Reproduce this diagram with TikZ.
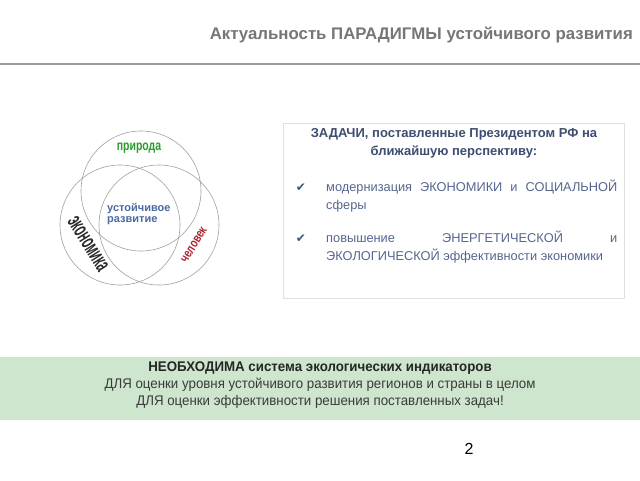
\documentclass[tikz,border=0pt]{standalone}
\usepackage{fontspec}
\setmainfont{Liberation Sans}
\newfontfamily\symfont{DejaVu Sans}
\newfontfamily\narrowfont[FakeStretch=0.75]{Liberation Sans}
\newfontfamily\bandfont[FakeStretch=0.95]{Liberation Sans}
\newfontfamily\tallfont[FakeStretch=0.5]{Liberation Sans}
\definecolor{titlegray}{HTML}{767676}
\definecolor{rulegray}{HTML}{9A9A9A}
\definecolor{circgray}{HTML}{A0A0A0}
\definecolor{boxline}{HTML}{E0E0E0}
\definecolor{boxhead}{HTML}{3E4E70}
\definecolor{boxtext}{HTML}{55668E}
\definecolor{checkblue}{HTML}{3C5588}
\definecolor{bandgreen}{HTML}{CFE6CE}
\definecolor{bandtext}{HTML}{3A3A3A}
\definecolor{natgreen}{HTML}{2E9A2E}
\definecolor{sustblue}{HTML}{4A6AA0}
\definecolor{manred}{HTML}{B0202E}
\definecolor{econdark}{HTML}{2A2A2A}
\begin{document}
\begin{tikzpicture}[x=1pt,y=-1pt,
  venn/.style={circle,draw=circgray,line width=0.6pt,minimum size=120pt,inner sep=0pt},
  chk/.style={font=\symfont\fontsize{12}{14}\selectfont,text=checkblue,inner sep=0pt},
  itemtxt/.style={anchor=north west,text width=291pt,align=justify,inner sep=0pt,
    font=\fontsize{12.8}{17.5}\selectfont,text=boxtext},
  bandline/.style={font=\bandfont\fontsize{14}{16}\selectfont,text=bandtext,inner sep=0pt}]
\useasboundingbox (0,0) rectangle (640,480);
\fill[white] (0,0) rectangle (640,480);
% title
\node[anchor=east,inner sep=0pt,text=titlegray,font=\bfseries\fontsize{16.8}{19}\selectfont] (title) at (633,35) {Актуальность ПАРАДИГМЫ устойчивого развития};
\coordinate (ruleL) at (0,64);
\coordinate (ruleR) at (640,64);
\draw[rulegray,line width=1.8pt] (ruleL) -- (ruleR);
% venn
\node[venn] (cTop) at (141,191) {};
\node[venn] (cLeft) at (120,225) {};
\node[venn] (cRight) at (159,225) {};
\node[text=natgreen,font=\narrowfont\bfseries\fontsize{14}{16}\selectfont,inner sep=0pt] (nat) at (139,148) {природа};
\node[anchor=west,align=left,text=sustblue,font=\bfseries\fontsize{11}{11.5}\selectfont,inner sep=0pt] (sust) at (107,214) {устойчивое\\развитие};
\node[rotate=-58,text=econdark,font=\tallfont\bfseries\fontsize{23}{24}\selectfont,inner sep=0pt] (econ) at (88,244) {экономика};
\node[rotate=58,text=manred,font=\narrowfont\bfseries\fontsize{13}{14}\selectfont,inner sep=0pt] (man) at (194,245) {человек};
% tasks box
\node[draw=boxline,line width=0.8pt,minimum width=341pt,minimum height=175pt,anchor=north west,inner sep=0pt] (box) at (283,123) {};
\node[align=center,text=boxhead,font=\bfseries\fontsize{13}{18}\selectfont,inner sep=0pt] (boxtitle) at (454,143) {ЗАДАЧИ, поставленные Президентом РФ на\\ближайшую перспективу:};
\node[chk] (ck1) at (301,188) {✔};
\node[chk] (ck2) at (301,239) {✔};
\node[itemtxt] (it1) at (326,180) {модернизация ЭКОНОМИКИ и СОЦИАЛЬНОЙ сферы};
\node[itemtxt] (it2) at (326,231) {повышение ЭНЕРГЕТИЧЕСКОЙ и\linebreak ЭКОЛОГИЧЕСКОЙ эффективности экономики};
% band
\fill[bandgreen] (0,357) rectangle (640,420);
\node[bandline,font=\bandfont\bfseries\fontsize{14}{16}\selectfont,text=black!85] (b1) at (320,368) {НЕОБХОДИМА система экологических индикаторов};
\node[bandline] (b2) at (320,385) {ДЛЯ оценки уровня устойчивого развития регионов и страны в целом};
\node[bandline] (b3) at (320,402) {ДЛЯ оценки эффективности решения поставленных задач!};
% page number
\node[font=\fontsize{16}{18}\selectfont,inner sep=0pt] (pg) at (469,449) {2};
\end{tikzpicture}
\end{document}
